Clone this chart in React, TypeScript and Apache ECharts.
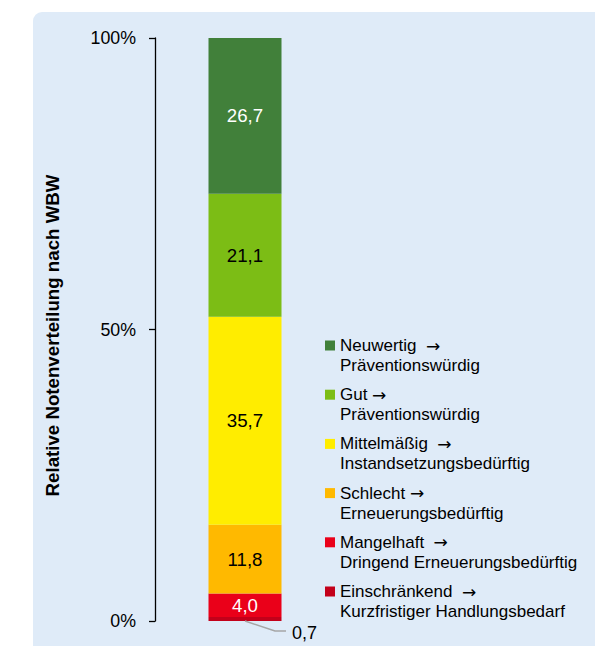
import React, { useEffect, useRef } from "react";
import * as echarts from "echarts";

const categories = ["WBW"];
const gradeNames = ["Einschränkend", "Mangelhaft", "Schlecht", "Mittelmäßig", "Gut", "Neuwertig"];
const legendHeads = ["Einschränkend  ", "Mangelhaft  ", "Schlecht ", "Mittelmäßig  ", "Gut ", "Neuwertig  "];
const legendActions = [
  "Kurzfristiger Handlungsbedarf",
  "Dringend Erneuerungsbedürftig",
  "Erneuerungsbedürftig",
  "Instandsetzungsbedürftig",
  "Präventionswürdig",
  "Präventionswürdig",
];
const values = [0.7, 4.0, 11.8, 35.7, 21.1, 26.7];
const colors = ["#C3001A", "#EA0019", "#FFB900", "#FFED00", "#7CBD15", "#41803A"];
const labelColors = ["#000", "#FFFFFF", "#000", "#000", "#000", "#FFFFFF"];
const yMin = 0;
const yMax = 100;
const yInterval = 50;
const yTitle = "Relative Notenverteilung nach WBW";

const fmt = (v: number) => v.toFixed(1).replace(".", ",");

export default function App() {
  const ref = useRef<HTMLDivElement>(null);
  useEffect(() => {
    if (!ref.current) return;
    const chart = echarts.init(ref.current, undefined, { renderer: "svg" });
    const font = "'Liberation Sans', Arial, sans-serif";
    const bg = {
      id: "bg",
      type: "rect",
      z: -10,
      silent: true,
      shape: { x: 33, y: 12, width: 620, height: 700, r: 9 },
      style: { fill: "#DFEBF8" },
    };
    chart.setOption({
      animation: false,
      textStyle: { fontFamily: font },
      graphic: [bg],
      grid: { left: 155, right: 260, top: 38, bottom: 25 },
      xAxis: { type: "category", data: categories, show: false },
      yAxis: {
        type: "value",
        min: yMin,
        max: yMax,
        interval: yInterval,
        name: yTitle,
        nameLocation: "middle",
        nameGap: 93,
        nameTextStyle: {
          fontSize: 18.7,
          fontWeight: "bold",
          color: "#000",
          fontFamily: font,
          padding: [0, 12, 0, 0],
        },
        axisLine: { show: true, lineStyle: { color: "#000", width: 1.3 } },
        axisTick: { show: true, length: 6, lineStyle: { color: "#000", width: 1.3 } },
        splitLine: { show: false },
        axisLabel: {
          formatter: "{value}%",
          fontSize: 17.8,
          color: "#000",
          margin: 19,
          fontFamily: font,
        },
      },
      legend: {
        orient: "vertical",
        left: 325,
        top: 315.5,
        padding: 0,
        itemGap: -10.8,
        itemWidth: 10,
        itemHeight: 10,
        icon: "rect",
        data: gradeNames.slice().reverse(),
        formatter: (name: string) => {
          const i = gradeNames.indexOf(name);
          return `{e| }\n{t|${legendHeads[i]}}{a|→}\n{t|${legendActions[i]}}`;
        },
        textStyle: {
          fontSize: 17,
          lineHeight: 20,
          color: "#000",
          fontFamily: font,
          rich: {
            e: { fontSize: 17, lineHeight: 20, fontFamily: font },
            t: { fontSize: 17, lineHeight: 20, fontFamily: font, color: "#000" },
            a: { fontSize: 17, lineHeight: 20, fontFamily: "'DejaVu Sans', sans-serif", color: "#000" },
          },
        },
      },
      series: gradeNames.map((name, i) => ({
        name,
        type: "bar",
        stack: "total",
        barWidth: 73,
        data: [values[i]],
        itemStyle: { color: colors[i] },
        label: {
          show: values[i] >= 2,
          position: "inside",
          formatter: (p: any) => fmt(p.value),
          fontSize: 18.7,
          color: labelColors[i],
          fontFamily: font,
        },
      })),
    });
    const p = chart.convertToPixel({ xAxisIndex: 0, yAxisIndex: 0 }, [0, 0]) as number[];
    chart.setOption({
      graphic: [
        bg,
        {
          id: "leader",
          type: "polyline",
          z: 10,
          shape: {
            points: [
              [p[0], p[1]],
              [p[0] + 30, p[1] + 10],
              [p[0] + 41, p[1] + 10],
            ],
          },
          style: { stroke: "#A6A6A6", lineWidth: 1.5, fill: "none" },
        },
        {
          id: "smallLabel",
          type: "text",
          z: 10,
          x: p[0] + 47,
          y: p[1] + 12,
          style: {
            text: fmt(values[0]),
            fontSize: 18,
            fontFamily: font,
            fill: "#000",
            verticalAlign: "middle",
          },
        },
      ],
    });
    return () => chart.dispose();
  }, []);
  return (
    <div
      ref={ref}
      style={{ position: "absolute", left: 0, top: 0, width: 595, height: 646 }}
    />
  );
}
